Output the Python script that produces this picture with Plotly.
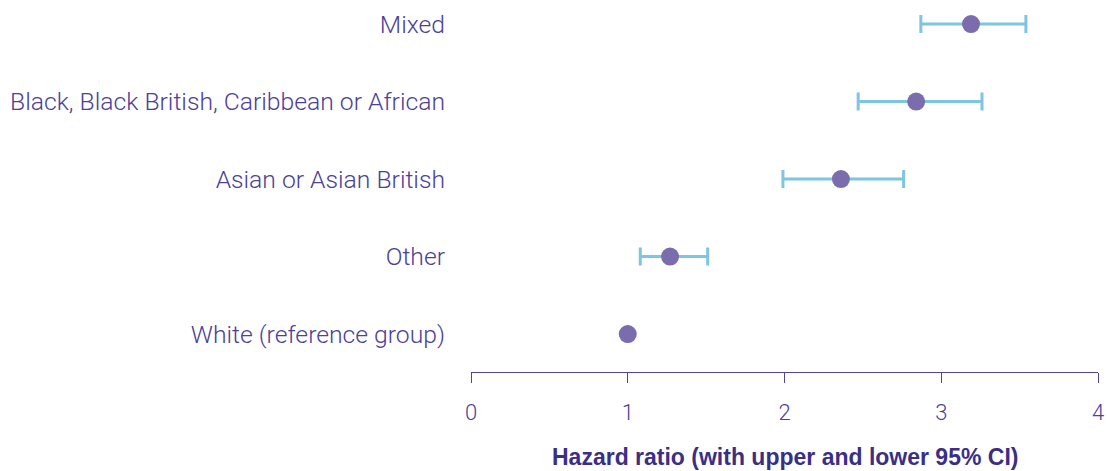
import plotly.graph_objects as go

# Hazard ratios by ethnic group, with 95% confidence limits
groups = ["White (reference group)", "Other", "Asian or Asian British",
          "Black, Black British, Caribbean or African", "Mixed"]
hazard_ratio = [1.0, 1.27, 2.36, 2.84, 3.19]
ci_lower = [None, 1.08, 1.99, 2.47, 2.87]
ci_upper = [None, 1.51, 2.76, 3.26, 3.54]
x_ticks = [0, 1, 2, 3, 4]

TEXT = "#4B4196"
AXIS = "#4F4699"
DOT = "#7B6DAD"
BAR = "#7DC5E0"
TITLE = "#3A2F85"
FONT = "Roboto"

ypos = list(range(len(groups)))
err_plus = [None if u is None else u - h for u, h in zip(ci_upper, hazard_ratio)]
err_minus = [None if l is None else h - l for l, h in zip(ci_lower, hazard_ratio)]

fig = go.Figure()
fig.add_trace(go.Scatter(
    x=hazard_ratio, y=ypos, mode="markers",
    marker=dict(size=18, color=DOT),
    error_x=dict(type="data", symmetric=False, array=err_plus, arrayminus=err_minus,
                 color=BAR, thickness=3, width=9),
    hoverinfo="skip", showlegend=False,
))

fig.update_layout(
    width=1107, height=471,
    margin=dict(l=471, r=9, t=0, b=99),
    paper_bgcolor="white", plot_bgcolor="white",
    font=dict(family=FONT, color=TEXT, size=24, weight=300),
    xaxis=dict(
        range=[0, 4], tickvals=x_ticks, ticktext=[str(t) for t in x_ticks],
        showgrid=False, zeroline=False, showline=True, linecolor=AXIS, linewidth=1.2,
        ticks="outside", ticklen=10, tickwidth=1.2, tickcolor=AXIS,
        ticklabelstandoff=10, tickfont=dict(size=22, color=TEXT, family=FONT, weight=300),
    ),
    yaxis=dict(
        range=[-0.49, 4.31], tickvals=ypos, ticktext=groups,
        showgrid=False, zeroline=False, showline=False, ticks="",
        ticklabelstandoff=25, tickfont=dict(size=24.7, color=TEXT, family=FONT, weight=300),
    ),
    annotations=[dict(
        text="<b>Hazard ratio (with upper and lower 95% CI)</b>",
        xref="paper", yref="paper", x=0.5, y=-(457 - 372) / 372,
        xanchor="center", yanchor="middle", showarrow=False,
        font=dict(size=23, color=TITLE, family="Liberation Sans"),
    )],
)

fig.write_html("out.html")
